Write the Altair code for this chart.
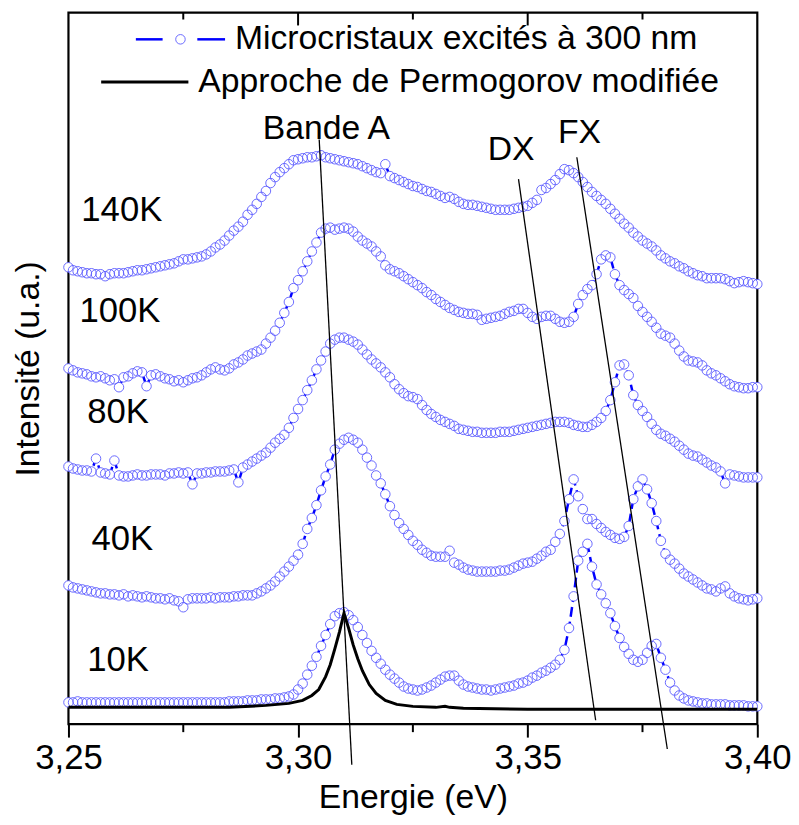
import altair as alt
import pandas as pd

# Sampling grid of the spectra (1 meV step from 3.250 to 3.400 eV)
energy = [round(3.25 + 0.001 * k, 3) for k in range(151)]

temps = ["10K", "40K", "80K", "100K", "140K"]

t10 = [22,22,23,22,22,22,22,22,22,22, 22,22,22,22,22,22,22,22,22,22,
       22,22,22,22,22,22,22,22,22,22,
       22,22,22,22,22,23,23,23,23,24,
       24,24,25,25,25,26,26,27,28,30,
       35,41,50,59,68,79,90,101,109,112,
       113,110,105,98,90,82,74,67,61,55,
       50,46,42,38,36,35,34,35,37,39,
       42,45,48,49,49,44,40,38,37,36,
       35,35,34,35,36,37,38,39,41,42,
       44,47,49,52,54,57,60,65,75,97,
       129,165,174,182,159,141,131,122,112,99,
       87,78,71,65,63,65,72,79,81,67,
       55,42,34,29,26,24,23,22,21,21,
       20,20,20,20,19,19,19,19,18,18,18]

t40 = [140,138,137,136,135,134,133,132,132,131,
       131,130,131,129,130,129,128,129,128,127,
       127,126,127,125,124,118,126,127,127,127,
       127,128,127,128,128,128,129,129,130,130,
       130,132,134,137,140,144,149,154,159,165,
       171,182,197,208,221,236,250,262,277,283,
       287,289,287,284,277,269,261,251,243,232,
       220,211,203,197,191,185,181,176,173,170,
       169,169,169,175,163,161,158,156,155,154,
       154,154,154,154,155,155,156,158,160,162,
       163,164,167,170,174,176,184,192,205,227,
       247,230,217,207,207,202,198,194,191,188,
       187,189,200,227,240,247,237,223,205,185,
       172,166,162,157,152,149,146,143,140,137,
       136,134,137,139,132,129,127,126,125,126,127]

t80 = [260,258,257,256,256,255,268,254,253,252,
       266,251,250,250,251,252,251,251,252,252,
       252,251,253,253,254,253,254,242,253,253,
       254,254,255,255,255,256,257,244,259,262,
       265,268,271,274,279,284,288,292,299,309,
       318,327,337,347,358,367,376,384,388,390,
       390,388,386,383,378,373,368,364,360,355,
       350,343,338,334,331,330,328,322,317,313,
       310,307,305,303,301,298,297,296,295,295,
       294,294,294,294,295,295,295,296,297,298,
       299,300,301,302,303,304,305,305,305,304,
       302,301,300,300,302,305,309,316,327,345,
       362,363,352,332,322,316,310,303,297,293,
       291,288,285,281,277,273,271,270,267,264,
       261,259,255,243,252,251,250,249,249,249,249]

t100 = [359,357,355,354,353,351,350,351,349,347,
        348,340,350,351,354,356,355,341,352,353,
        351,349,348,346,347,345,347,349,350,352,
        355,358,360,358,357,359,363,365,368,372,
        374,376,378,384,390,397,405,415,426,440,
        448,457,467,477,486,496,500,501,499,500,
        501,500,497,492,488,485,482,477,472,463,
        459,457,455,452,449,446,443,440,436,433,
        429,426,423,420,418,416,415,414,414,413,
        408,409,410,411,412,414,416,417,419,419,
        415,411,409,411,412,412,409,406,405,406,
        411,424,433,439,443,454,469,473,471,454,
        443,438,434,430,422,416,411,406,400,394,
        392,390,384,377,371,367,366,365,362,357,
        354,352,349,346,343,341,340,339,339,340,340]

t140 = [461,458,457,456,455,455,454,454,452,454,
        455,455,455,456,457,458,458,459,460,461,
        462,463,464,465,467,469,469,470,471,472,
        474,477,481,484,488,493,498,502,507,514,
        519,525,532,538,546,552,557,561,565,569,
        570,571,572,572,573,574,572,571,570,569,
        568,567,566,565,563,561,559,557,556,565,
        553,551,549,547,545,543,542,540,538,537,
        535,533,531,532,530,527,525,524,524,523,
        522,521,520,519,519,519,519,520,521,522,
        523,526,529,539,541,545,549,555,560,559,
        556,552,547,542,537,533,529,525,520,515,
        510,505,501,496,492,488,485,482,478,473,
        470,467,465,462,460,457,455,453,452,450,
        450,450,450,449,447,445,446,447,446,445,444]

series = [t10, t40, t80, t100, t140]

# Modified Permogorov approach (black curve)
perm_e = [3.250, 3.285, 3.293, 3.298, 3.301, 3.303, 3.3045, 3.306, 3.307, 3.308,
          3.309, 3.310, 3.311, 3.312, 3.313, 3.314, 3.3155, 3.317, 3.319, 3.3215,
          3.325, 3.330, 3.332, 3.333, 3.336, 3.350, 3.400]
perm_v = [17, 17, 19, 21, 24, 29, 35, 48, 60, 76,
          93, 112, 97, 80, 66, 54, 40, 31, 24, 20,
          18, 17, 18, 17, 16, 15, 15]

# Guide lines (Bande A, DX, FX): top and bottom end points
guide_names = ["Bande A", "DX", "FX"]
guide_e1 = [3.3046, 3.3480, 3.3607]
guide_v1 = [590, 550, 572]
guide_e2 = [3.3117, 3.3648, 3.3804]
guide_v2 = [-41, 4, -25]
guide_lab_e = [3.2923, 3.3413, 3.3566]
guide_lab_v = [600, 579, 596]

temp_lab_e = [3.2541, 3.2550, 3.2541, 3.2524, 3.2528]
temp_lab_v = [65, 187, 315, 417, 519]

major_ticks = [3.25, 3.30, 3.35, 3.40]
minor_ticks = [3.275, 3.325, 3.375]
top_major = [3.30, 3.35]

legend_labels = ["Microcristaux excités à 300 nm", "Approche de Permogorov modifiée"]

FONT = "Liberation Sans"
W, H = 695, 718

rows = []
for t, vals in zip(temps, series):
    for e, v in zip(energy, vals):
        rows.append({"E": e, "v": v, "T": t})
df = pd.DataFrame(rows)
perm_df = pd.DataFrame({"E": perm_e, "v": perm_v})
guide_df = pd.DataFrame({"name": guide_names, "E": guide_e1, "v": guide_v1,
                         "E2": guide_e2, "v2": guide_v2})
guide_lab_df = pd.DataFrame({"name": guide_names, "E": guide_lab_e, "v": guide_lab_v})
temp_df = pd.DataFrame({"T": temps, "E": temp_lab_e, "v": temp_lab_v})
minor_df = pd.DataFrame({"E": minor_ticks})
topmaj_df = pd.DataFrame({"E": top_major})
one = pd.DataFrame({"a": [0]})

xs = alt.Scale(domain=[3.25, 3.40], nice=False, zero=False)
ys = alt.Scale(domain=[0, H], nice=False, zero=False)

x_axis = alt.Axis(values=major_ticks, labelExpr="replace(format(datum.value, '.2f'), '.', ',')",
                  title="Energie (eV)", tickSize=13, tickWidth=2, tickColor="black",
                  labelFontSize=35, labelFont=FONT, labelColor="black", labelPadding=4,
                  labelFlush=False, labelOverlap=False, titleFontSize=34, titleFont=FONT,
                  titleFontWeight="normal", titleColor="black", titlePadding=5,
                  domain=False, grid=False)
y_axis = alt.Axis(title="Intensité (u.a.)", ticks=False, labels=False, domain=False, grid=False,
                  titleFontSize=34, titleFont=FONT, titleFontWeight="normal",
                  titleColor="black", titlePadding=23)

X = alt.X("E:Q", scale=xs, axis=x_axis)
Y = alt.Y("v:Q", scale=ys, axis=y_axis)

lines = alt.Chart(df).mark_line(color="#0000ff", strokeWidth=2.5, strokeDash=[10, 5]).encode(
    x=X, y=Y, detail="T:N", order="E:Q")
fills = alt.Chart(df).mark_circle(color="white", opacity=1, size=92).encode(x=X, y=Y)
rings = alt.Chart(df).mark_point(shape="circle", filled=False, color="#5a5aff",
                                 strokeWidth=0.9, size=92, opacity=1).encode(x=X, y=Y)
perm = alt.Chart(perm_df).mark_line(color="black", strokeWidth=3).encode(x=X, y=Y, order="E:Q")

guides = alt.Chart(guide_df).mark_rule(color="black", strokeWidth=1.3).encode(
    x=X, y=Y, x2="E2:Q", y2="v2:Q")
guide_text = alt.Chart(guide_lab_df).mark_text(align="left", baseline="middle", fontSize=34,
                                               font=FONT, color="black").encode(
    x=X, y=Y, text="name:N")
temp_text = alt.Chart(temp_df).mark_text(align="left", baseline="middle", fontSize=35,
                                         font=FONT, color="black").encode(
    x=X, y=Y, text="T:N")

minor_bot = alt.Chart(minor_df).mark_rule(color="black", strokeWidth=2).encode(
    x=X, y=alt.value(H), y2=alt.value(H + 8))
minor_top = alt.Chart(minor_df).mark_rule(color="black", strokeWidth=2).encode(
    x=X, y=alt.value(0), y2=alt.value(7))
major_top = alt.Chart(topmaj_df).mark_rule(color="black", strokeWidth=2).encode(
    x=X, y=alt.value(0), y2=alt.value(13))

# legend
leg_d1 = alt.Chart(one).mark_rule(color="#0000ff", strokeWidth=2.5).encode(
    x=alt.value(68), x2=alt.value(95), y=alt.value(27))
leg_d2 = alt.Chart(one).mark_rule(color="#0000ff", strokeWidth=2.5).encode(
    x=alt.value(130), x2=alt.value(158), y=alt.value(27))
leg_c = alt.Chart(one).mark_point(shape="circle", filled=False, color="#5a5aff",
                                  strokeWidth=0.9, size=92, opacity=1).encode(
    x=alt.value(113), y=alt.value(27))
leg_t1 = alt.Chart(one).mark_text(align="left", baseline="middle", fontSize=34, font=FONT,
                                  color="black").encode(
    x=alt.value(168), y=alt.value(27), text=alt.value(legend_labels[0]))
leg_l2 = alt.Chart(one).mark_rule(color="black", strokeWidth=3).encode(
    x=alt.value(33), x2=alt.value(121), y=alt.value(70))
leg_t2 = alt.Chart(one).mark_text(align="left", baseline="middle", fontSize=34, font=FONT,
                                  color="black").encode(
    x=alt.value(131), y=alt.value(70), text=alt.value(legend_labels[1]))

chart = alt.layer(
    lines, fills, rings, perm, guides, guide_text, temp_text,
    minor_bot, minor_top, major_top,
    leg_d1, leg_d2, leg_c, leg_t1, leg_l2, leg_t2
).properties(
    width=W, height=H,
    autosize=alt.AutoSizeParams(type="none"),
    padding={"left": 61, "top": 1, "right": 34, "bottom": 88},
    background="white"
).configure_view(stroke="black", strokeWidth=2.2)

chart.save("out.html", embed_options={"renderer": "svg", "actions": False})
